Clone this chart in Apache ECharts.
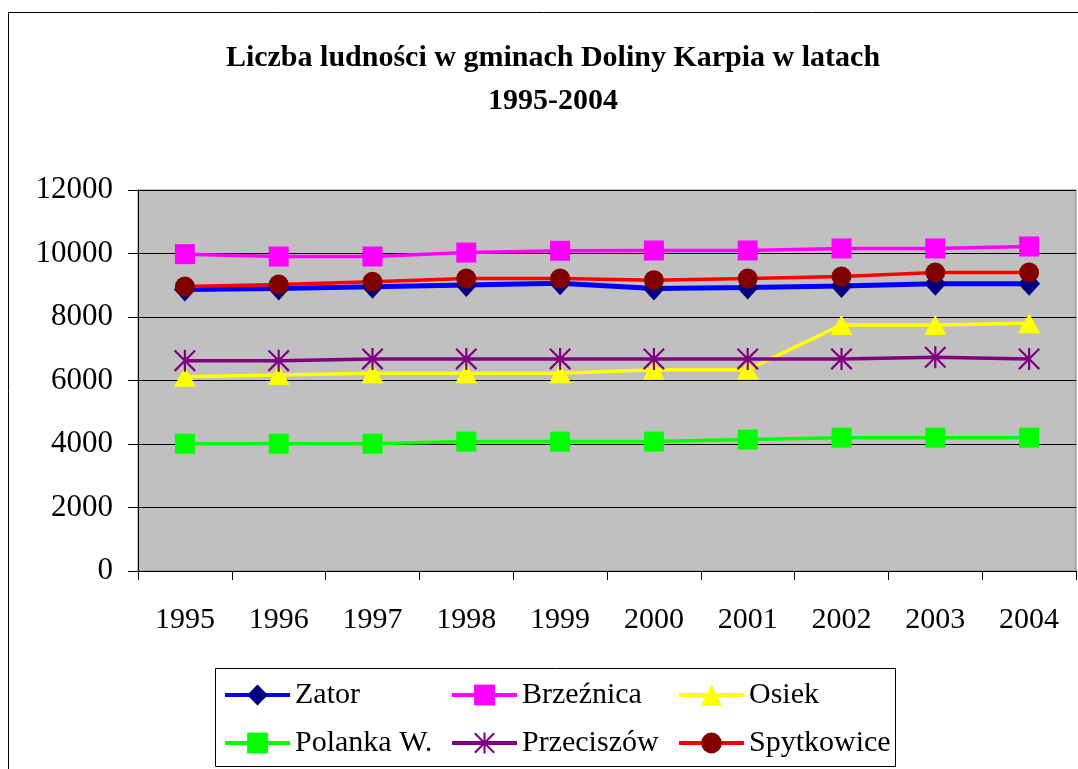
<!DOCTYPE html>
<html>
<head>
<meta charset="utf-8">
<script src="https://cdn.jsdelivr.net/npm/echarts@6/dist/echarts.min.js"></script>
<style>
html,body{margin:0;padding:0;background:#fff;}
#c{width:1078px;height:769px;}
</style>
</head>
<body>
<div id="c"></div>
<script>
const years = ['1995','1996','1997','1998','1999','2000','2001','2002','2003','2004'];
const zator = [8870, 8900, 8950, 9010, 9065, 8900, 8930, 8980, 9045, 9045];
const brzeznica = [9980, 9905, 9905, 10030, 10085, 10095, 10095, 10160, 10160, 10220];
const osiek = [6120, 6173, 6225, 6225, 6225, 6340, 6340, 7750, 7750, 7800];
const polanka = [4010, 4010, 4010, 4075, 4075, 4075, 4140, 4200, 4200, 4200];
const przeciszow = [6625, 6625, 6680, 6680, 6680, 6680, 6680, 6680, 6730, 6680];
const spytkowice = [8960, 9020, 9110, 9210, 9210, 9160, 9210, 9275, 9400, 9400];
const titleLines = ['Liczba ludności w gminach Doliny Karpia w latach', '1995-2004'];
const yTicks = {min: 0, max: 12000, interval: 2000};

const FONT = 'Liberation Serif';
const star = 'path://M9,0h2v20h-2z M0,1.4L1.4,0L20,18.6L18.6,20z M18.6,0L20,1.4L1.4,20L0,18.6z';

function mk(name, data, lineColor, lineWidth, symbol, symColor, size) {
  return {
    name: name, type: 'line', data: data,
    symbol: symbol, symbolSize: size,
    lineStyle: {color: lineColor, width: lineWidth},
    itemStyle: {color: symColor, borderWidth: 0},
    emphasis: {disabled: true},
    z: 2
  };
}

const series = [
  mk('Zator', zator, '#0000FF', 5, 'diamond', '#000080', [22, 24]),
  mk('Brzeźnica', brzeznica, '#FF00FF', 3.5, 'rect', '#FF00FF', 20),
  mk('Osiek', osiek, '#FFFF00', 3.5, 'triangle', '#FFFF00', [22, 20]),
  mk('Polanka W.', polanka, '#00FF00', 3.5, 'rect', '#00FF00', 20),
  mk('Przeciszów', przeciszow, '#800080', 3.5, star, '#800080', 22),
  mk('Spytkowice', spytkowice, '#FF0000', 3.5, 'circle', '#800000', 20)
];

const legendPos = [
  [223, 680], [450, 680], [677, 680],
  [223, 728], [450, 728], [677, 728]
];
const legends = series.map((s, i) => ({
  data: [s.name],
  left: legendPos[i][0], top: legendPos[i][1],
  itemWidth: 65, itemHeight: 26, itemGap: 0,
  padding: 0,
  selectedMode: false,
  lineStyle: {width: 4},
  textStyle: {fontFamily: FONT, fontSize: 30, color: '#000', lineHeight: 30}
}));

const chart = echarts.init(document.getElementById('c'));
chart.setOption({
  animation: false,
  backgroundColor: '#fff',
  textStyle: {fontFamily: FONT},
  graphic: [
    {type: 'rect', shape: {x: 8.5, y: 12.5, width: 1100, height: 800}, style: {fill: 'none', stroke: '#000', lineWidth: 1}, z: -10},
    {type: 'rect', shape: {x: 215.5, y: 668.5, width: 680, height: 98}, style: {fill: '#fff', stroke: '#000', lineWidth: 1}, z: -5},
    {type: 'text', x: 553, y: 58, style: {text: titleLines[0], font: 'bold 30px "Liberation Serif"', fill: '#000', textAlign: 'center', textVerticalAlign: 'middle'}},
    {type: 'text', x: 553, y: 101, style: {text: titleLines[1], font: 'bold 30px "Liberation Serif"', fill: '#000', textAlign: 'center', textVerticalAlign: 'middle'}}
  ],
  legend: legends,
  grid: {
    left: 138, right: 2, top: 190, bottom: 198,
    show: true, backgroundColor: '#C0C0C0', borderColor: '#808080', borderWidth: 1
  },
  xAxis: {
    type: 'category', data: years, boundaryGap: true,
    axisLine: {show: true, lineStyle: {color: '#000', width: 1}},
    axisTick: {show: true, length: 9, lineStyle: {color: '#000'}},
    axisLabel: {fontFamily: FONT, fontSize: 30, color: '#000', margin: 34, interval: 0},
    splitLine: {show: false}
  },
  yAxis: {
    type: 'value', min: yTicks.min, max: yTicks.max, interval: yTicks.interval,
    axisLine: {show: true, lineStyle: {color: '#000', width: 1}},
    axisTick: {show: true, length: 10, lineStyle: {color: '#000'}},
    axisLabel: {fontFamily: FONT, fontSize: 31, color: '#000', margin: 25, formatter: v => String(v)},
    splitLine: {show: true, lineStyle: {color: '#000', width: 1}}
  },
  series: series
});
</script>
</body>
</html>
